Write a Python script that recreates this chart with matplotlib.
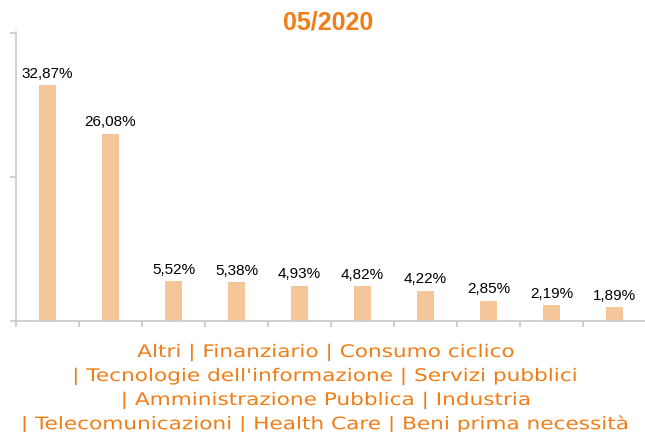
import numpy as np
import matplotlib.pyplot as plt
from matplotlib import patheffects
from matplotlib.transforms import Affine2D

# data
sectors = ["Altri", "Finanziario", "Consumo ciclico", "Tecnologie dell'informazione",
           "Servizi pubblici", "Amministrazione Pubblica", "Industria",
           "Telecomunicazioni", "Health Care", "Beni prima necessità"]
weights = [32.87, 26.08, 5.52, 5.38, 4.93, 4.82, 4.22, 2.85, 2.19, 1.89]
title = "05/2020"

ORANGE = '#F07D16'
BAR = '#F6C69B'
GRID = '#C8C8C8'


class Stretch(patheffects.AbstractPathEffect):
    # widen the glyphs horizontally around a fixed x (display pixels)
    def __init__(self, sx, cx):
        super().__init__()
        self.sx = sx
        self.cx = cx

    def draw_path(self, renderer, gc, tpath, affine, rgbFace=None):
        a = affine + Affine2D().translate(-self.cx, 0).scale(self.sx, 1).translate(self.cx, 0)
        renderer.draw_path(gc, tpath, a, rgbFace)


fig = plt.figure(figsize=(6.45, 4.32), dpi=100)
ax = fig.add_axes([16/645, 1 - 321/432, 630/645, (321 - 32)/432])

x = np.arange(len(weights))
ax.bar(x, weights, width=0.27, color=BAR)
for xi, w in zip(x, weights):
    ax.annotate(f"{w:.2f}%".replace('.', ','), (xi, w), xytext=(0, 3),
                textcoords='offset points', ha='center', va='bottom',
                fontsize=11, family='Liberation Sans', color='black')

ax.set_xlim(-0.5, len(weights) - 0.5)
ax.set_ylim(0, 40.2)
ax.set_yticks([0, 20, 40])
ax.set_yticklabels([])
ax.set_xticks(np.arange(len(weights) + 1) - 0.5)
ax.set_xticklabels([])
ax.tick_params(axis='y', direction='out', length=4.5, width=1.2, color=GRID)
ax.tick_params(axis='x', direction='out', length=4.5, width=1.2, color=GRID)
for s in ['top', 'right']:
    ax.spines[s].set_visible(False)
for s in ['left', 'bottom']:
    ax.spines[s].set_color(GRID)
    ax.spines[s].set_linewidth(1.2)

fig.text(328/645, 1 - 22/432, title, ha='center', va='center', fontsize=18,
         fontweight='bold', family='Liberation Sans', color=ORANGE)

label_lines = [
    "Altri | Finanziario | Consumo ciclico",
    "| Tecnologie dell'informazione | Servizi pubblici",
    "| Amministrazione Pubblica | Industria",
    "| Telecomunicazioni | Health Care | Beni prima necessità",
]
cx = 327
for i, line in enumerate(label_lines):
    fig.text(cx/645, 1 - (352 + 24*i)/432, line, ha='center', va='center',
             fontsize=12.5, family='DejaVu Sans', color=ORANGE,
             path_effects=[Stretch(1.245, cx)])

fig.savefig('out.png', dpi=100)
